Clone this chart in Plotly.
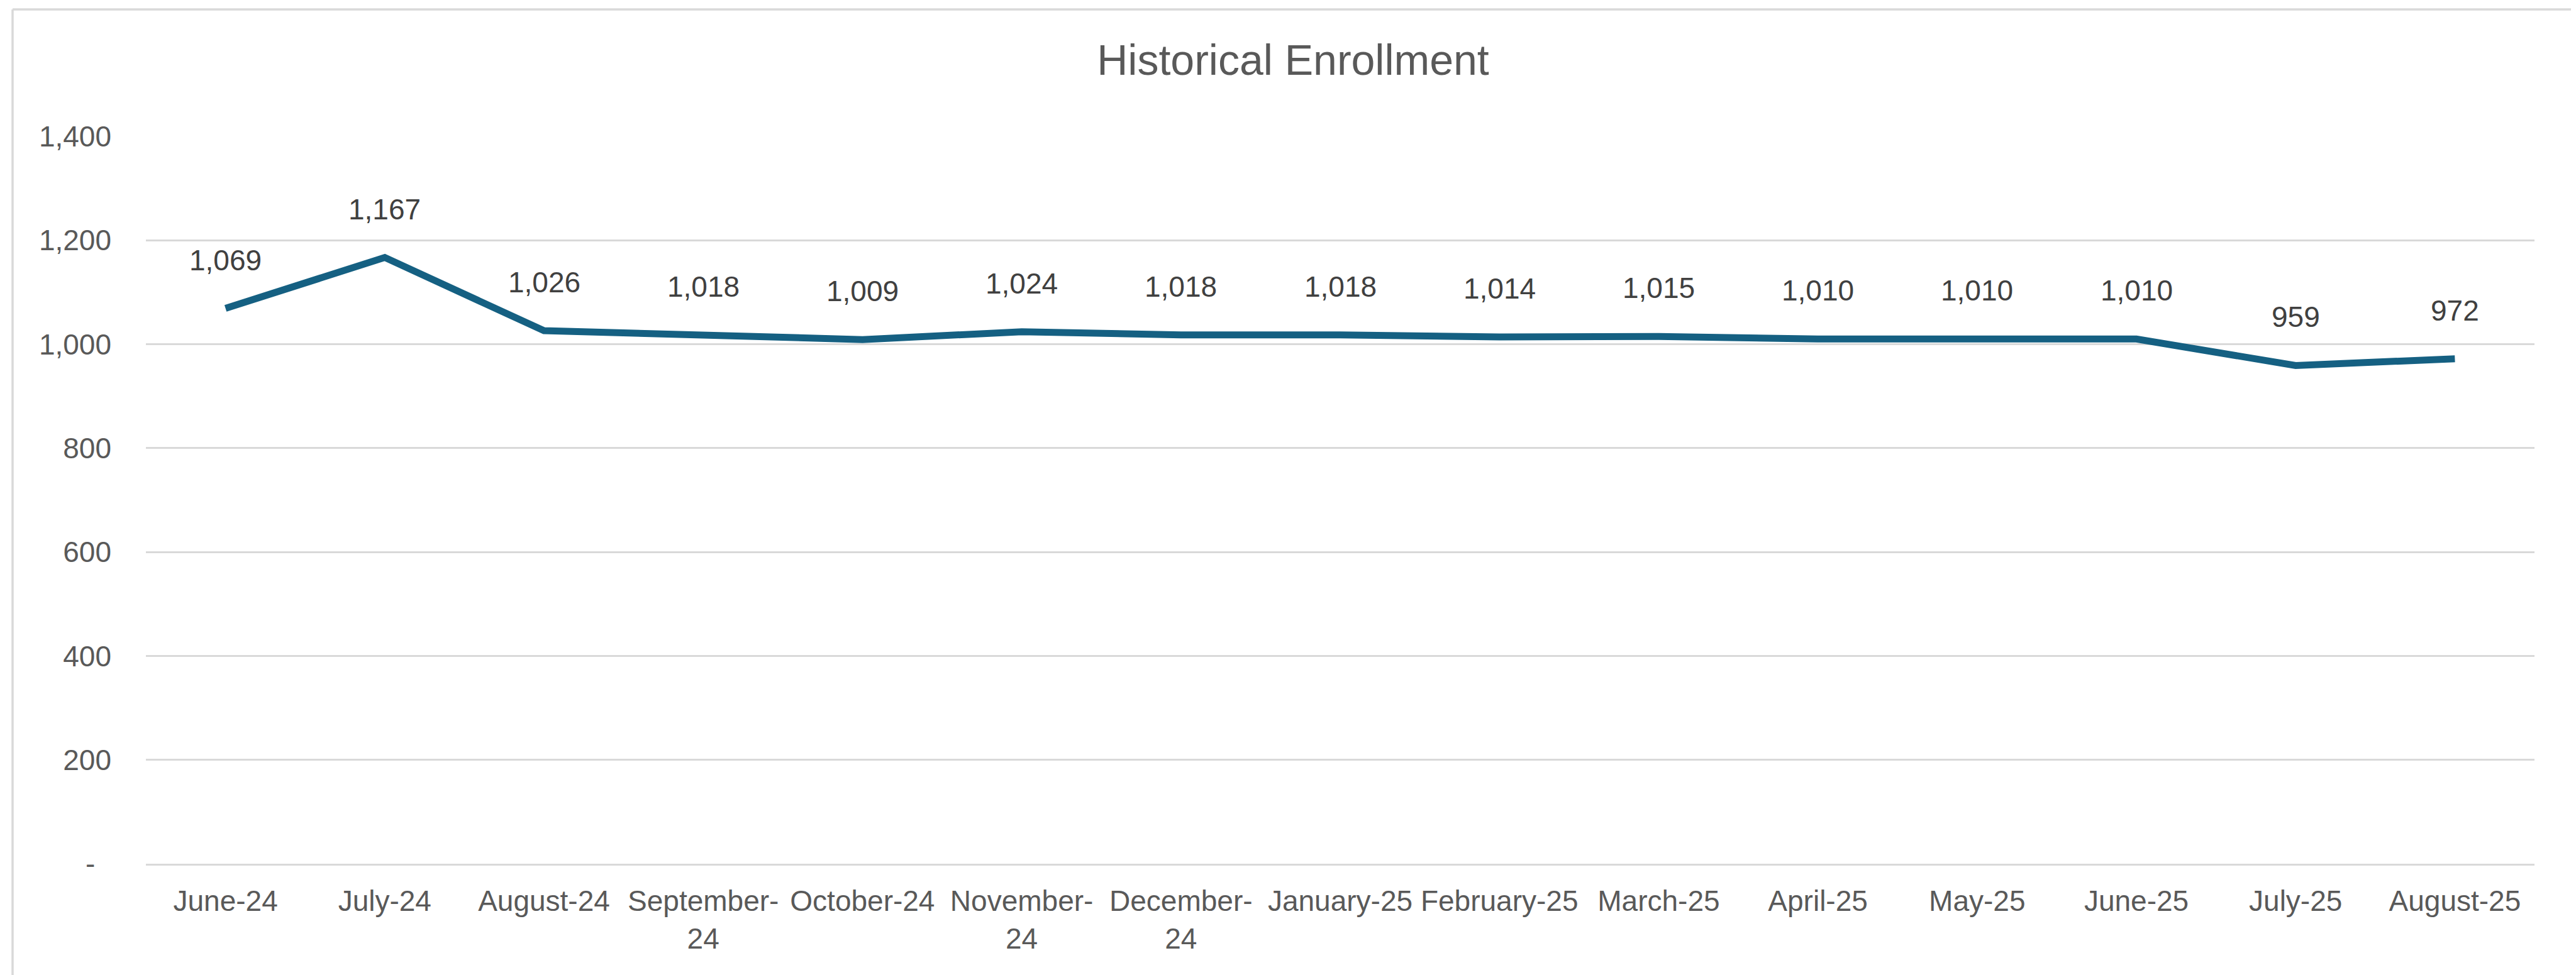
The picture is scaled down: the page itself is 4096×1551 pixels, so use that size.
import plotly.graph_objects as go

months = ["June-24", "July-24", "August-24", "September-24", "October-24", "November-24",
          "December-24", "January-25", "February-25", "March-25", "April-25", "May-25",
          "June-25", "July-25", "August-25"]
month_labels = ["June-24", "July-24", "August-24", "September-<br>24", "October-24", "November-<br>24",
                "December-<br>24", "January-25", "February-25", "March-25", "April-25", "May-25",
                "June-25", "July-25", "August-25"]
enrollment = [1069, 1167, 1026, 1018, 1009, 1024, 1018, 1018, 1014, 1015, 1010, 1010, 1010, 959, 972]
y_tickvals = [0, 200, 400, 600, 800, 1000, 1200, 1400]
y_ticktext = ["-\u00a0\u00a0", "200", "400", "600", "800", "1,000", "1,200", "1,400"]

W, H = 4096, 1551
L, R, T, B = 224, 74, 209, 185
FONT = "Liberation Sans, Arial, sans-serif"

fig = go.Figure()
fig.add_trace(go.Scatter(
    x=months, y=enrollment, mode="lines",
    line=dict(color="#156082", width=11),
    hoverinfo="x+y", showlegend=False,
))

for m, v in zip(months, enrollment):
    fig.add_annotation(
        x=m, y=v, xref="x", yref="y", text=f"{v:,}", showarrow=False,
        yanchor="middle", xanchor="center", yshift=77,
        font=dict(family=FONT, size=46, color="#404040"),
    )

# chart-area border (top, left, right)
pw = W - L - R
ph = H - T - B
def px_x(p):
    return (p - L) / pw
def px_y(p):
    return 1 - (p - T) / ph
bc = "#d9d9d9"
bx0, bx1, by0 = px_x(12), px_x(4082), px_y(7)
ybot = px_y(H + 5)
fig.add_shape(type="line", xref="paper", yref="paper", x0=bx0, x1=bx1, y0=by0, y1=by0,
              line=dict(color=bc, width=3.5))
fig.add_shape(type="line", xref="paper", yref="paper", x0=bx0, x1=bx0, y0=by0, y1=ybot,
              line=dict(color=bc, width=3.5))
fig.add_shape(type="line", xref="paper", yref="paper", x0=bx1, x1=bx1, y0=by0, y1=ybot,
              line=dict(color=bc, width=3.5))

fig.update_layout(
    width=W, height=H,
    margin=dict(l=L, r=R, t=T, b=B, autoexpand=False),
    paper_bgcolor="white", plot_bgcolor="white",
    title=dict(text="Historical Enrollment", x=0.5, xref="container", xanchor="center",
               y=1 - 87 / H, yref="container", yanchor="middle",
               font=dict(family=FONT, size=68, color="#595959")),
    font=dict(family=FONT, size=46, color="#595959"),
    xaxis=dict(
        type="category", tickmode="array", tickvals=months, ticktext=month_labels,
        showgrid=False, showline=True, linecolor="#d9d9d9", linewidth=3,
        ticks="", ticklabelstandoff=17, zeroline=False,
        tickfont=dict(family=FONT, size=46, color="#595959"),
        range=[-0.5, len(months) - 0.5],
    ),
    yaxis=dict(
        range=[0, 1400], tickmode="array", tickvals=y_tickvals, ticktext=y_ticktext,
        showgrid=True, gridcolor="#d9d9d9", gridwidth=3, zeroline=False, showline=False,
        ticks="", ticklabelstandoff=54,
        tickfont=dict(family=FONT, size=46, color="#595959"),
    ),
)

fig.write_html("out.html")
